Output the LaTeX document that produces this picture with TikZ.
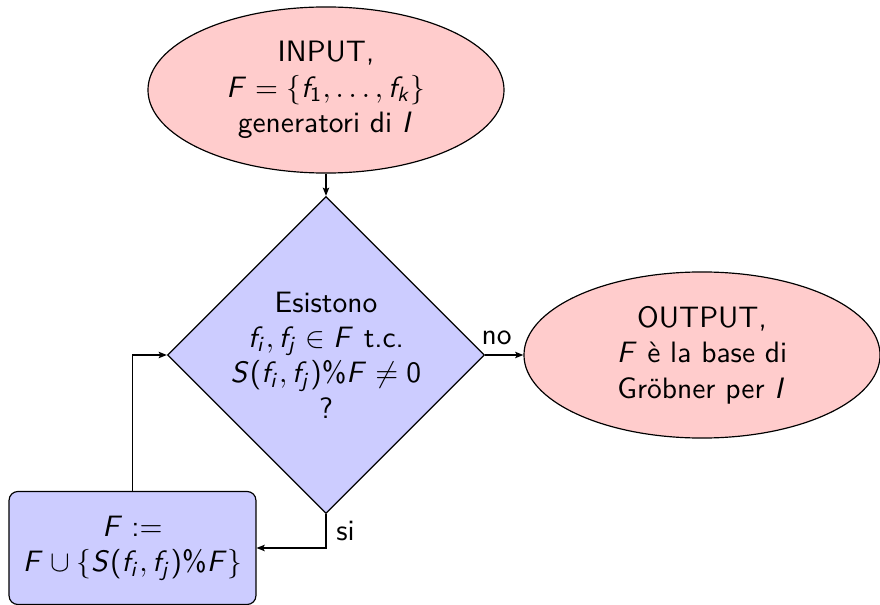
\documentclass[tikz,border=0pt]{standalone}
\usetikzlibrary{shapes.geometric,arrows.meta}
\SetSymbolFont{operators}{normal}{OT1}{cmss}{m}{n}
\DeclareSymbolFont{sfitalic}{OT1}{cmss}{m}{sl}
\DeclareMathSymbol{F}{\mathalpha}{sfitalic}{`F}
\DeclareMathSymbol{I}{\mathalpha}{sfitalic}{`I}
\DeclareMathSymbol{S}{\mathalpha}{sfitalic}{`S}
\DeclareMathSymbol{f}{\mathalpha}{sfitalic}{`f}
\DeclareMathSymbol{i}{\mathalpha}{sfitalic}{`i}
\DeclareMathSymbol{j}{\mathalpha}{sfitalic}{`j}
\DeclareMathSymbol{k}{\mathalpha}{sfitalic}{`k}
\tikzset{
  io/.style={ellipse, draw, fill=red!20, minimum width=120.7pt, minimum height=56.3pt, inner sep=0pt, align=center},
  decision/.style={diamond, draw, fill=blue!20, minimum width=107.1pt, minimum height=107.1pt, inner sep=0pt, aspect=1, align=center},
  proc/.style={rectangle, draw, fill=blue!20, rounded corners=3pt, minimum width=83.7pt, minimum height=38.3pt, inner sep=0pt, align=center},
  arr/.style={-{Stealth[length=2.8pt,width=2.2pt,inset=0.6pt]}},
  every node/.append style={font=\sffamily}
}
\begin{document}
\begin{tikzpicture}[x=0.339pt,y=-0.339pt]
\useasboundingbox (0,0) rectangle (880,605);
\node[io] (in) at (326,90) {INPUT,\\ $F=\{f_1,\ldots,f_k\}$\\ generatori di $I$};
\node[decision] (dec) at (326,355) {Esistono\\ $f_i,f_j\in F$ t.c.\\ $S(f_i,f_j)\%F\neq 0$\\ ?};
\node[io] (out) at (702,355) {OUTPUT,\\ $F$ è la base di\\ Gröbner per $I$};
\node[proc] (upd) at (132.5,548) {$F:=$\\ $F\cup\{S(f_i,f_j)\%F\}$};
\draw[arr] (in) -- (dec);
\draw[arr] (dec) -- node[above, pos=0.3] {no} (out);
\draw[arr] (dec.south) |- node[right, pos=0.25] {si} (upd.east);
\draw[arr] (upd.north) |- (dec.west);
\end{tikzpicture}
\end{document}
